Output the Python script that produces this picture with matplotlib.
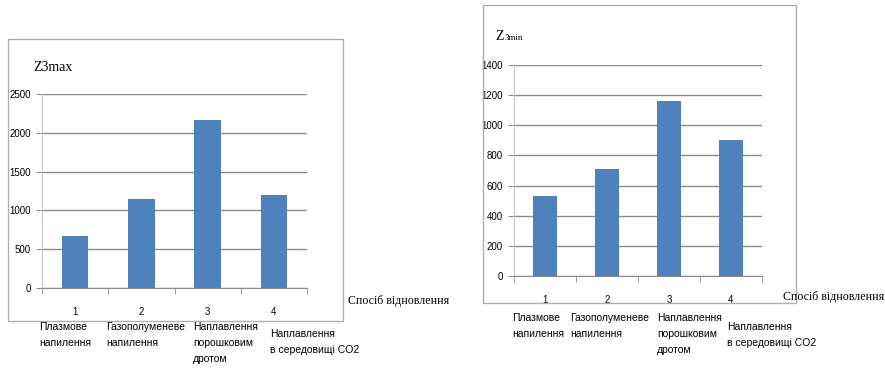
import matplotlib
matplotlib.use("Agg")
import matplotlib.pyplot as plt
from matplotlib import font_manager
from matplotlib.patches import Rectangle

# Data
methods = ["1", "2", "3", "4"]
method_names = [
    "Плазмове\nнапилення",
    "Газополуменеве\nнапилення",
    "Наплавлення\nпорошковим\nдротом",
    "Наплавлення\nв середовищі CO2",
]
z3max = [670, 1150, 2160, 1200]
z3min = [530, 710, 1160, 905]
z3max_ticks = [0, 500, 1000, 1500, 2000, 2500]
z3min_ticks = [0, 200, 400, 600, 800, 1000, 1200, 1400]
x_title = "Спосіб відновлення"

W, H = 885, 374
BAR = "#4F81BD"
GRID = "#8a8a8a"
FRAME = "#b0b0b0"

names = {f.name for f in font_manager.fontManager.ttflist}
SANS = "Liberation Sans Narrow" if "Liberation Sans Narrow" in names else "Liberation Sans"
SERIF = "Liberation Serif"

fig = plt.figure(figsize=(W / 100, H / 100), dpi=100)
fig.patch.set_facecolor("white")


def fx(x):
    return x / W


def fy(y):
    return 1 - y / H


def frame(x0, y0, x1, y1):
    fig.patches.append(Rectangle((fx(x0), fy(y1)), fx(x1 - x0), (y1 - y0) / H,
                                 transform=fig.transFigure, fill=False,
                                 edgecolor=FRAME, linewidth=1.0))


def chart(box, values, yticks):
    x0, y0, x1, y1 = box
    ax = fig.add_axes([fx(x0), fy(y1), fx(x1 - x0), (y1 - y0) / H])
    xs = range(len(values))
    ax.bar(xs, values, width=0.4, color=BAR, zorder=3)
    ax.set_xlim(-0.5, len(values) - 0.5)
    ax.set_ylim(yticks[0], yticks[-1])
    ax.set_yticks(yticks)
    ax.set_yticklabels([str(t) for t in yticks], fontfamily=SANS, fontsize=7)
    ax.set_xticks(list(xs))
    ax.set_xticklabels(methods, fontfamily=SANS, fontsize=7)
    ax.set_xticks([i - 0.5 for i in range(len(values) + 1)], minor=True)
    ax.tick_params(axis="x", which="major", length=0, pad=14)
    ax.tick_params(axis="x", which="minor", length=4, color=GRID, direction="out")
    ax.tick_params(axis="y", length=4, color=GRID, pad=4)
    ax.yaxis.grid(True, color=GRID, linewidth=1.0, zorder=0)
    for s in ["top", "right"]:
        ax.spines[s].set_visible(False)
    ax.spines["left"].set_color("#c8c8c8")
    ax.spines["bottom"].set_color(GRID)
    ax.set_facecolor("none")
    return ax


# Left chart: Z3max
frame(8, 39, 343, 321)
chart((42, 94, 307, 288), z3max, z3max_ticks)
fig.text(fx(33), fy(71), "Z3max", fontfamily=SERIF, fontsize=10, va="baseline")
fig.text(fx(348), fy(301), x_title, fontfamily=SERIF, fontsize=8.6, va="center")
left_pos = [(39, 322), (106, 322), (193, 322), (270, 329)]
for (px, py), name in zip(left_pos, method_names):
    fig.text(fx(px), fy(py), name, fontfamily=SANS, fontsize=7.5, va="top",
             ha="left", linespacing=1.75)

# Right chart: Z3min
frame(483, 5, 796, 303)
chart((514, 65, 762, 276), z3min, z3min_ticks)
fig.text(fx(495), fy(40), "Z", fontfamily=SERIF, fontsize=10, va="baseline")
fig.text(fx(504.5), fy(40), "3min", fontfamily=SERIF, fontsize=6.5, va="baseline")
fig.text(fx(884), fy(297), x_title, fontfamily=SERIF, fontsize=8.6, va="center",
         ha="right")
right_pos = [(512, 313), (570, 313), (657, 313), (727, 322)]
for (px, py), name in zip(right_pos, method_names):
    fig.text(fx(px), fy(py), name, fontfamily=SANS, fontsize=7.5, va="top",
             ha="left", linespacing=1.75)

fig.savefig("out.png", dpi=100, facecolor="white")
